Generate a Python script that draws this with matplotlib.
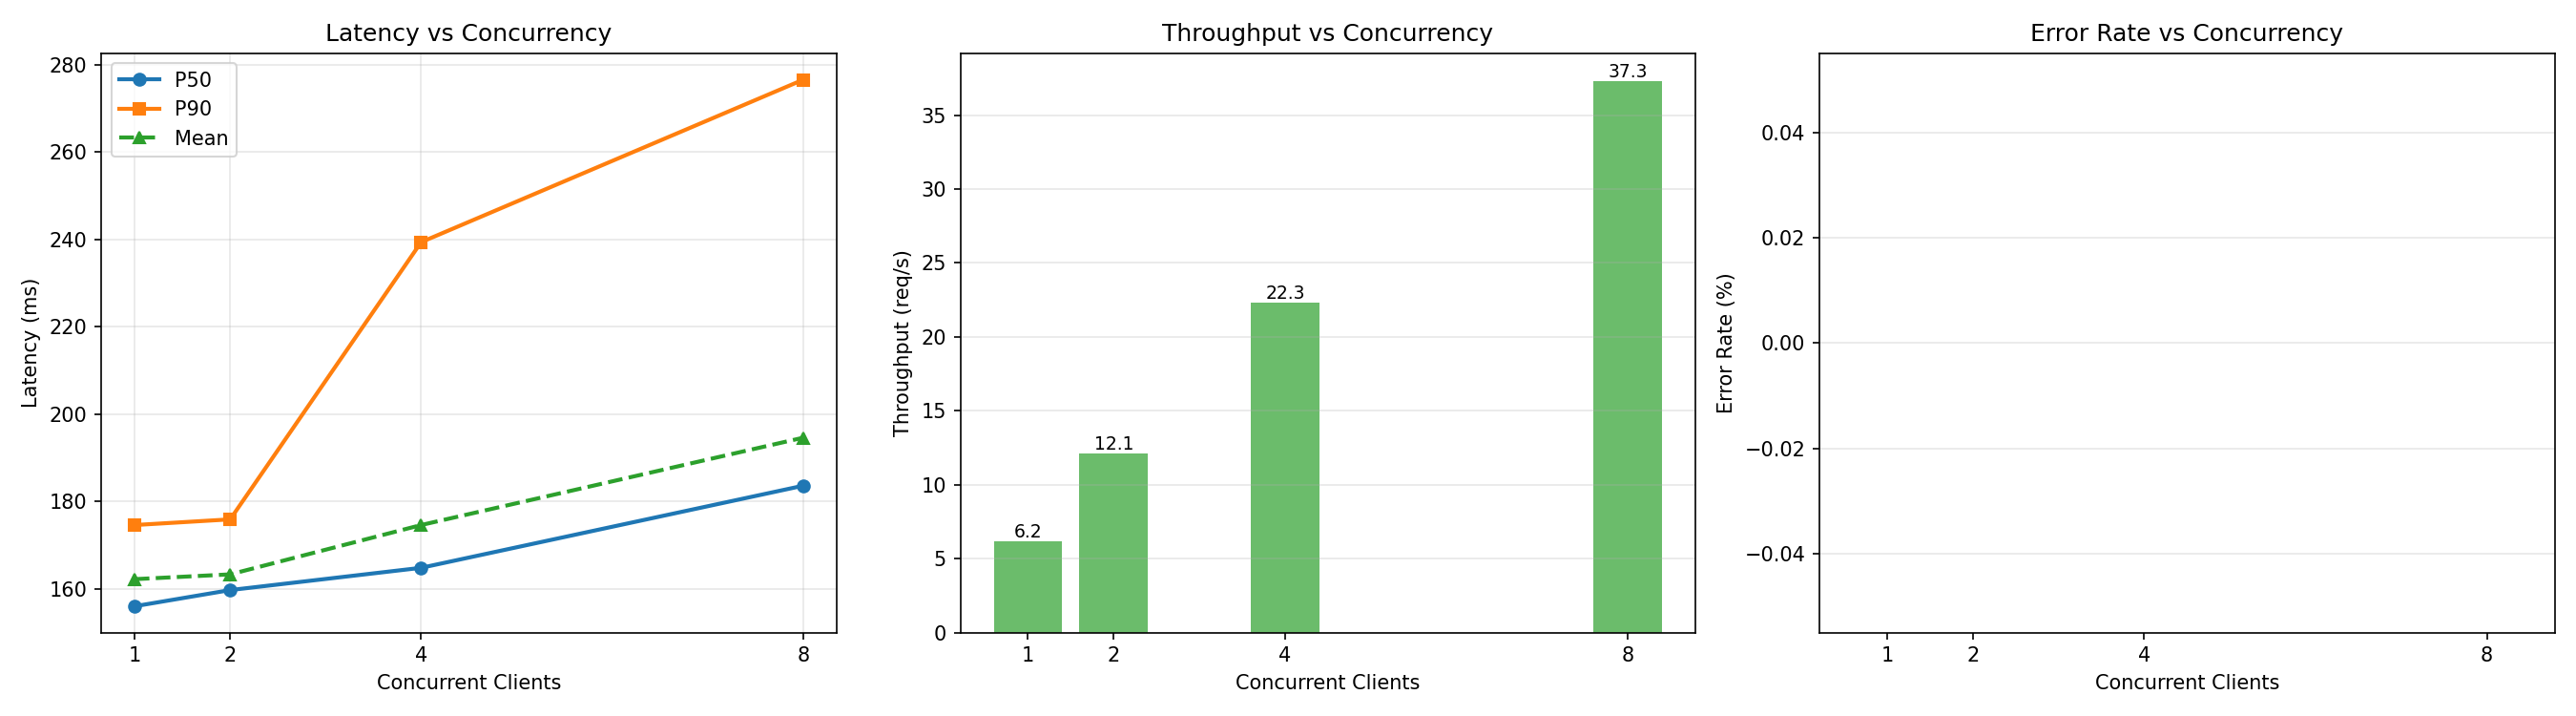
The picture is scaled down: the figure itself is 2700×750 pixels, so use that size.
import matplotlib
matplotlib.use('Agg')
import matplotlib.pyplot as plt

clients = [1, 2, 4, 8]
p50_ms = [156.0, 159.7, 164.8, 183.6]
p90_ms = [174.6, 175.9, 239.4, 276.6]
mean_ms = [162.2, 163.3, 174.6, 194.6]
throughput = [6.2, 12.1, 22.3, 37.3]
error_rate = [0.0, 0.0, 0.0, 0.0]

fig, axes = plt.subplots(1, 3, figsize=(18, 5))

# latency
ax = axes[0]
ax.plot(clients, p50_ms, marker='o', linewidth=2, label='P50')
ax.plot(clients, p90_ms, marker='s', linewidth=2, label='P90')
ax.plot(clients, mean_ms, marker='^', linewidth=2, linestyle='--', label='Mean')
ax.set_xlabel('Concurrent Clients')
ax.set_ylabel('Latency (ms)')
ax.set_title('Latency vs Concurrency')
ax.set_xticks(clients)
ax.legend()
ax.grid(True, alpha=0.3)

# throughput
ax = axes[1]
bars = ax.bar(clients, throughput, color='#2ca02c', alpha=0.7)
for b, v in zip(bars, throughput):
    ax.text(b.get_x() + b.get_width() / 2, b.get_height(), f'{v:.1f}',
            ha='center', va='bottom', fontsize=9)
ax.set_xlabel('Concurrent Clients')
ax.set_ylabel('Throughput (req/s)')
ax.set_title('Throughput vs Concurrency')
ax.set_xticks(clients)
ax.grid(True, alpha=0.3, axis='y')

# error rate
ax = axes[2]
ax.bar(clients, error_rate, color='#d62728', alpha=0.7)
ax.set_xlabel('Concurrent Clients')
ax.set_ylabel('Error Rate (%)')
ax.set_title('Error Rate vs Concurrency')
ax.set_xticks(clients)
ax.grid(True, alpha=0.3, axis='y')

plt.tight_layout()
plt.savefig('out.png', dpi=150)
